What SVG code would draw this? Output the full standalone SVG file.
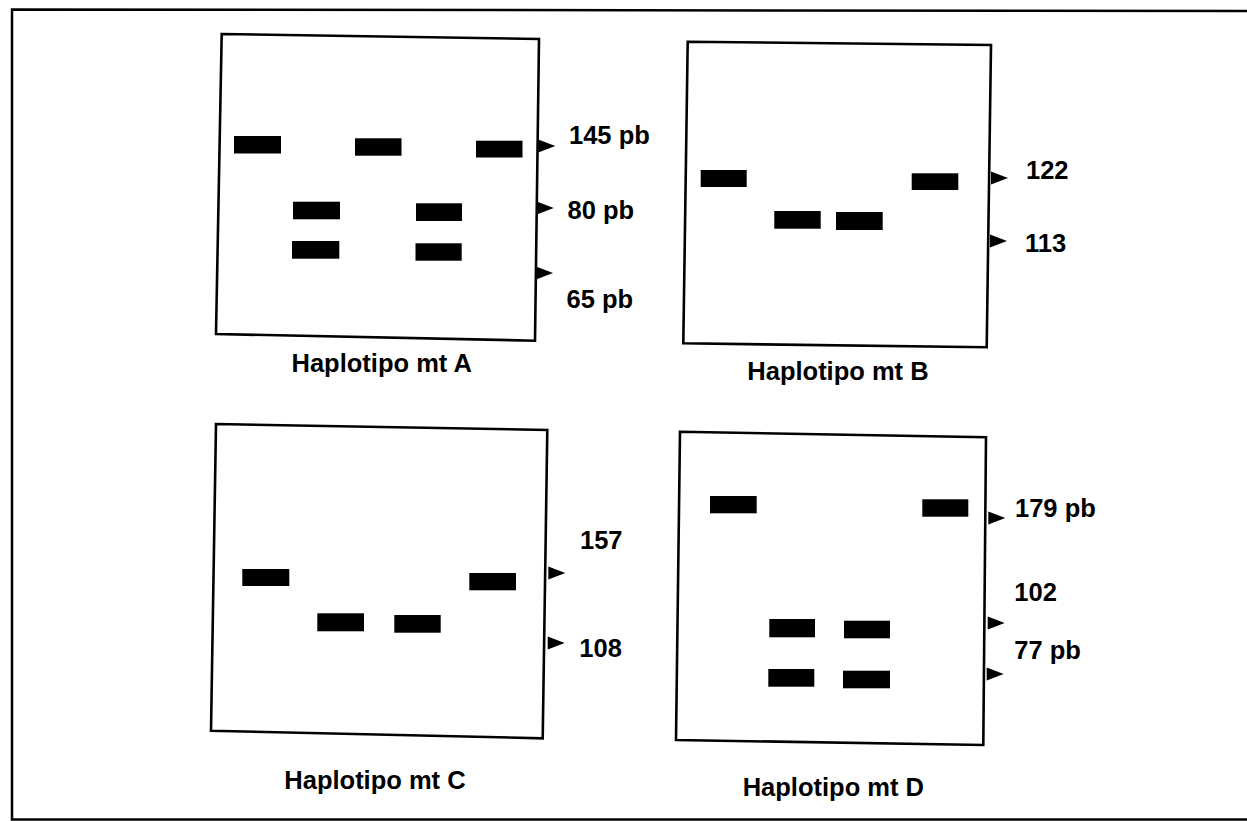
<svg xmlns="http://www.w3.org/2000/svg" xmlns:xlink="http://www.w3.org/1999/xlink" width="1247" height="821" viewBox="0 0 1247 821">
<style>
.frame{fill:none;stroke:#000;stroke-width:2.5}
.gel{fill:#fff;stroke:#000;stroke-width:2.6;stroke-linejoin:miter}
.band{fill:#000}
.lbl{font-family:"Liberation Sans",Arial,Helvetica,sans-serif;font-weight:bold;font-size:25.5px;fill:#000}
.ttl{font-family:"Liberation Sans",Arial,Helvetica,sans-serif;font-weight:bold;font-size:25.5px;fill:#000}
</style>
<defs>
<path id="arr" d="M0,-6.5 L17,0 L0,6.5 Z" fill="#000"/>
</defs>
<rect width="1247" height="821" fill="#fff"/>
<path class="frame" d="M1247,11 L12,9.5 L12,819.5 L1247,819.5"/>

<g id="panelA">
<polygon class="gel" points="221.7,34 539,39 535,340.7 216,334"/>
<rect class="band" x="234" y="136" width="47" height="17.5"/>
<rect class="band" x="355" y="138.3" width="46.5" height="17.4"/>
<rect class="band" x="476" y="140.7" width="46.5" height="16.8"/>
<rect class="band" x="293" y="201.7" width="47" height="17.6"/>
<rect class="band" x="416" y="203.3" width="46" height="17.7"/>
<rect class="band" x="292" y="241" width="47.3" height="17.7"/>
<rect class="band" x="415.5" y="243.3" width="46.2" height="17.4"/>
<text class="lbl" x="569" y="143.5">145 pb</text>
<text class="lbl" x="567.5" y="218.5">80 pb</text>
<text class="lbl" x="566.5" y="307.5">65 pb</text>
<text class="ttl" x="291.5" y="372">Haplotipo mt A</text>
</g>

<g id="panelB">
<polygon class="gel" points="687.7,41.7 991,45 986.7,347.3 683.3,343.3"/>
<rect class="band" x="700.7" y="170" width="46" height="17"/>
<rect class="band" x="774.3" y="211" width="46.4" height="17.7"/>
<rect class="band" x="836" y="212" width="46.7" height="18"/>
<rect class="band" x="911.7" y="173.3" width="46.6" height="16.7"/>
<text class="lbl" x="1026" y="178.5">122</text>
<text class="lbl" x="1025" y="251.7">113</text>
<text class="ttl" x="747.3" y="379.5">Haplotipo mt B</text>
</g>

<g id="panelC">
<polygon class="gel" points="216,424 547.3,430 542.7,738.3 211,730.7"/>
<rect class="band" x="242.3" y="569" width="47" height="17"/>
<rect class="band" x="317.3" y="613.3" width="46.7" height="18"/>
<rect class="band" x="394.3" y="615" width="46.4" height="17.7"/>
<rect class="band" x="469.3" y="573" width="46.7" height="17.3"/>
<text class="lbl" x="580" y="549.3">157</text>
<text class="lbl" x="579.3" y="657.3">108</text>
<text class="ttl" x="284.3" y="789.3">Haplotipo mt C</text>
</g>

<g id="panelD">
<polygon class="gel" points="680,431.7 986,437.3 983.3,745 676,740"/>
<rect class="band" x="710" y="496" width="46.7" height="17.3"/>
<rect class="band" x="922.3" y="499.3" width="46" height="17.4"/>
<rect class="band" x="769.3" y="619" width="45.7" height="18.3"/>
<rect class="band" x="844" y="620.7" width="46" height="17.6"/>
<rect class="band" x="768.3" y="669" width="46" height="17.7"/>
<rect class="band" x="843" y="670.7" width="47" height="17.6"/>
<text class="lbl" x="1015" y="516.7">179 pb</text>
<text class="lbl" x="1014.3" y="601">102</text>
<text class="lbl" x="1014.3" y="659.3">77 pb</text>
<text class="ttl" x="742.7" y="796">Haplotipo mt D</text>
</g>

<g id="connectors">
<use xlink:href="#arr" x="538.3" y="146"/>
<use xlink:href="#arr" x="536.7" y="208"/>
<use xlink:href="#arr" x="536" y="273"/>
<use xlink:href="#arr" x="991" y="178"/>
<use xlink:href="#arr" x="990" y="241"/>
<use xlink:href="#arr" x="548.3" y="573"/>
<use xlink:href="#arr" x="547.7" y="643"/>
<use xlink:href="#arr" x="988.3" y="518"/>
<use xlink:href="#arr" x="987.7" y="623"/>
<use xlink:href="#arr" x="986.7" y="674"/>
</g>
</svg>
